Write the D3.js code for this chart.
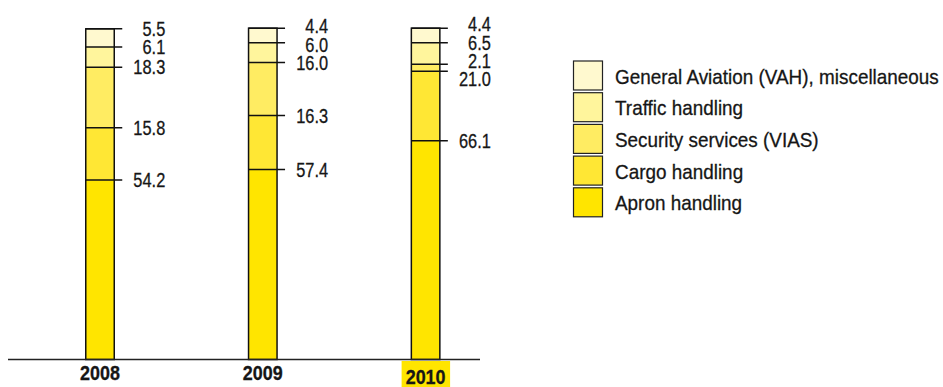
<!DOCTYPE html>
<html>
<head>
<meta charset="utf-8">
<script src="https://cdn.jsdelivr.net/npm/d3@7"></script>
<style>
  html, body { margin: 0; padding: 0; background: #fff; }
  svg { display: block; }
  text { font-family: "Liberation Sans", Arial, sans-serif; fill: #161616; stroke: #161616; stroke-width: 0.3px; }
</style>
</head>
<body>
<svg id="chart" width="943" height="387"></svg>
<script>
// Revenue split by business segment, in percent
const years = ["2008", "2009", "2010"];
const segments = ["Apron handling", "Cargo handling", "Security services (VIAS)", "Traffic handling", "General Aviation (VAH), miscellaneous"];
const apron    = [54.2, 57.4, 66.1];
const cargo    = [15.8, 16.3, 21.0];
const security = [18.3, 16.0, 2.1];
const traffic  = [6.1, 6.0, 6.5];
const general  = [5.5, 4.4, 4.4];
const colors   = ["#FFE500", "#FFE734", "#FFEC62", "#FFF59C", "#FFF9CF"];
const highlightYear = "2010";

const seriesValues = [apron, cargo, security, traffic, general];
const rows = years.map((yr, i) => {
  const r = { year: yr };
  segments.forEach((s, k) => { r[s] = seriesValues[k][i]; });
  return r;
});

const svg = d3.select("#chart");
const baseY = 359.5;
const barW = 28.5;
const narrow = 0.84;      // horizontal squeeze for a condensed look
const narrowLegend = 0.9;
const narrowBold = 0.92;

const x = d3.scalePoint().domain(years).range([100, 425.6]);
const y = d3.scaleLinear().domain([0, 100]).range([baseY, 28.5]);
const color = d3.scaleOrdinal().domain(segments).range(colors);

const stacked = d3.stack().keys(segments)(rows);

// condensed text placed at (px, py)
function label(parent, px, py, str, opts) {
  const o = Object.assign({ size: 19.5, anchor: "start", sx: narrow, weight: "normal" }, opts || {});
  const g = parent.append("g").attr("transform", `translate(${px},${py}) scale(${o.sx},1)`);
  g.append("text")
    .attr("dy", "0.36em")
    .attr("text-anchor", o.anchor)
    .attr("font-size", o.size)
    .attr("font-weight", o.weight)
    .text(str);
  return g;
}

// stacked segments
const layers = svg.append("g").selectAll("g")
  .data(stacked).join("g")
  .attr("fill", d => color(d.key));

layers.selectAll("rect")
  .data(d => d.map(p => ({ p, key: d.key })))
  .join("rect")
  .attr("x", d => x(d.p.data.year) - barW / 2)
  .attr("y", d => y(d.p[1]))
  .attr("width", barW)
  .attr("height", d => y(d.p[0]) - y(d.p[1]));

// bar outlines
svg.append("g").selectAll("rect")
  .data(rows).join("rect")
  .attr("x", d => x(d.year) - barW / 2)
  .attr("y", d => y(d3.sum(segments, s => d[s])))
  .attr("width", barW)
  .attr("height", d => baseY - y(d3.sum(segments, s => d[s])))
  .attr("fill", "none")
  .attr("stroke", "#111")
  .attr("stroke-width", 1.5);

// boundary lines with ticks and value labels
years.forEach((yr, i) => {
  const cx = x(yr);
  const items = stacked.map(layer => ({ top: y(layer[i][1]), value: layer[i][1] - layer[i][0] }));
  const g = svg.append("g");
  g.selectAll("line").data(items).join("line")
    .attr("x1", cx - barW / 2).attr("x2", cx + barW / 2 + 8)
    .attr("y1", d => d.top).attr("y2", d => d.top)
    .attr("stroke", "#111").attr("stroke-width", 1.5);

  // spread labels that would collide
  const pos = items.map(d => d.top);
  const gap = 18.2;
  for (let it = 0; it < 80; it++) {
    for (let k = 0; k < pos.length - 1; k++) {
      const d = pos[k] - pos[k + 1];
      if (d < gap) {
        const push = (gap - d) / 2;
        pos[k] += push;
        pos[k + 1] -= push;
      }
    }
  }
  items.forEach((d, k) => {
    label(g, cx + barW / 2 + 51, pos[k], d.value.toFixed(1), { anchor: "end" });
  });
});

// baseline
svg.append("line")
  .attr("x1", 8).attr("x2", 480)
  .attr("y1", baseY).attr("y2", baseY)
  .attr("stroke", "#222").attr("stroke-width", 1.4);

// year labels
const yearG = svg.append("g");
yearG.append("rect")
  .attr("x", x(highlightYear) - 24).attr("y", 361)
  .attr("width", 48.5).attr("height", 32)
  .attr("fill", "#FFE500");
years.forEach(yr => {
  label(yearG, x(yr), yr === highlightYear ? 377 : 373, yr,
        { anchor: "middle", weight: "bold", sx: narrowBold, size: 19.5 });
});

// legend, top entry = top of stack
const legendItems = segments.slice().reverse();
const legend = svg.append("g").selectAll("g")
  .data(legendItems).join("g")
  .attr("transform", (d, i) => `translate(573.5, ${61 + i * 31.7})`);
legend.append("rect")
  .attr("width", 29).attr("height", 29)
  .attr("fill", d => color(d))
  .attr("stroke", "#222").attr("stroke-width", 1.2);
legend.each(function (d) {
  label(d3.select(this), 41.5, 15, d, { size: 21, sx: narrowLegend });
});
</script>
</body>
</html>
